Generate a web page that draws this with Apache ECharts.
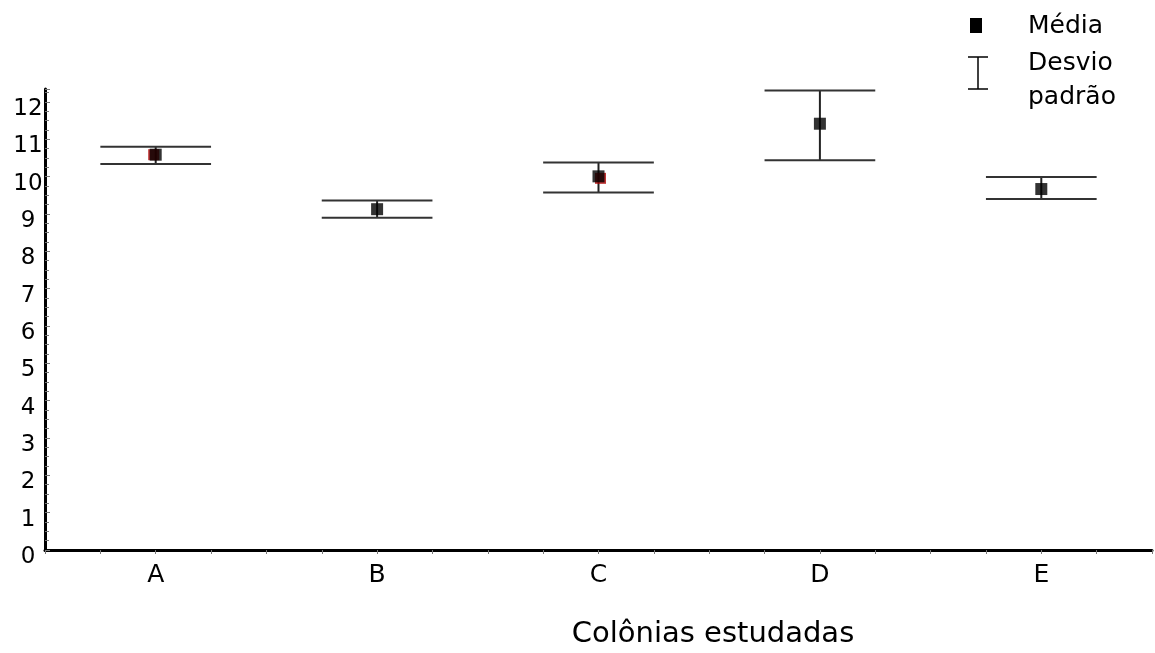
<!DOCTYPE html>
<html lang="pt">

<head>
  <meta charset="UTF-8">
  <title>Colônias estudadas</title>
  <style>
    html, body { margin: 0; padding: 0; background: #fff; }
  </style>
</head>

<body>
  <div id="main" style="width: 1155px; height: 653px"></div>

  <script src="https://cdn.jsdelivr.net/npm/echarts@6/dist/echarts.min.js"></script>

  <script>
    // dados
    const categories = ['A', 'B', 'C', 'D', 'E']
    const means = [10.59, 9.13, 10.01, 11.42, 9.67]
    const upper = [10.80, 9.36, 10.38, 12.31, 9.99]
    const lower = [10.34, 8.90, 9.58, 10.44, 9.40]

    const font = 'DejaVu Sans'

    let myChart = echarts.init(document.getElementById('main'))

    let option = {
      animation: false,
      grid: { left: 45, right: 0, top: 89, bottom: 103 },
      xAxis: {
        type: 'value',
        min: 0.5,
        max: 5.5,
        interval: 0.25,
        splitLine: { show: false },
        axisLine: { lineStyle: { color: '#000', width: 3 } },
        axisTick: { show: true, length: 4, lineStyle: { color: '#777', width: 1 } },
        axisLabel: {
          margin: 13,
          color: '#000',
          fontFamily: font,
          fontSize: 25,
          formatter: function (v) {
            return Number.isInteger(v) ? categories[v - 1] : ''
          }
        }
      },
      yAxis: {
        type: 'value',
        min: 0,
        max: 12.35,
        interval: 1,
        splitLine: { show: false },
        axisLine: { show: true, lineStyle: { color: '#000', width: 3 } },
        axisTick: { show: true, inside: true, length: 5, lineStyle: { color: '#777', width: 1 } },
        minorTick: { show: true, splitNumber: 4, length: 4, lineStyle: { color: '#777', width: 1 } },
        axisLabel: {
          align: 'center',
          verticalAlign: 'top',
          lineHeight: 14,
          margin: 17,
          color: '#000',
          fontFamily: font,
          fontSize: 23,
          formatter: function (v) {
            return Number.isInteger(v) ? String(v) : ''
          }
        }
      },
      series: [
        {
          name: 'Desvio padrão',
          type: 'custom',
          clip: false,
          encode: { x: 0, y: [1, 2] },
          data: categories.map((c, i) => [i + 1, lower[i], upper[i]]),
          renderItem: function (params, api) {
            const x = api.value(0)
            const lo = api.value(1)
            const hi = api.value(2)
            const top = api.coord([x, hi])
            const bot = api.coord([x, lo])
            const tl = api.coord([x - 0.25, hi])
            const tr = api.coord([x + 0.25, hi])
            const bl = api.coord([x - 0.25, lo])
            const br = api.coord([x + 0.25, lo])
            return {
              type: 'group',
              children: [
                { type: 'line', shape: { x1: top[0], y1: top[1], x2: bot[0], y2: bot[1] }, style: { stroke: '#222', lineWidth: 2 } },
                { type: 'line', shape: { x1: tl[0], y1: tl[1], x2: tr[0], y2: tr[1] }, style: { stroke: '#333', lineWidth: 2 } },
                { type: 'line', shape: { x1: bl[0], y1: bl[1], x2: br[0], y2: br[1] }, style: { stroke: '#333', lineWidth: 2 } }
              ]
            }
          },
          z: 2
        },
        {
          // leve sombra vermelha por baixo de alguns marcadores
          type: 'scatter',
          symbol: 'rect',
          symbolSize: [11, 11],
          itemStyle: { color: '#b00000' },
          data: [
            { value: [1, means[0]], symbolOffset: [-2, 0] },
            { value: [3, means[2]], symbolOffset: [2, 2] }
          ],
          silent: true,
          z: 3
        },
        {
          name: 'Média',
          type: 'scatter',
          symbol: 'rect',
          symbolSize: [12, 12],
          itemStyle: { color: '#000' },
          data: means.map((m, i) => [i + 1, m]),
          z: 4
        }
      ],
      graphic: [
        { type: 'text', x: 713, y: 634, style: { text: 'Colônias estudadas', fontFamily: font, fontSize: 29, fill: '#000', align: 'center', verticalAlign: 'middle' } },
        // legenda
        { type: 'rect', shape: { x: 970, y: 18, width: 12, height: 15 }, style: { fill: '#000' } },
        { type: 'text', x: 1028, y: 26, style: { text: 'Média', fontFamily: font, fontSize: 25, fill: '#000', verticalAlign: 'middle' } },
        { type: 'line', shape: { x1: 978, y1: 57, x2: 978, y2: 89 }, style: { stroke: '#000', lineWidth: 1.5 } },
        { type: 'line', shape: { x1: 968, y1: 57, x2: 988, y2: 57 }, style: { stroke: '#000', lineWidth: 1.5 } },
        { type: 'line', shape: { x1: 968, y1: 89, x2: 988, y2: 89 }, style: { stroke: '#000', lineWidth: 1.5 } },
        { type: 'text', x: 1028, y: 63, style: { text: 'Desvio', fontFamily: font, fontSize: 25, fill: '#000', verticalAlign: 'middle' } },
        { type: 'text', x: 1028, y: 97, style: { text: 'padrão', fontFamily: font, fontSize: 25, fill: '#000', verticalAlign: 'middle' } }
      ]
    }

    myChart.setOption(option)
  </script>
</body>

</html>
